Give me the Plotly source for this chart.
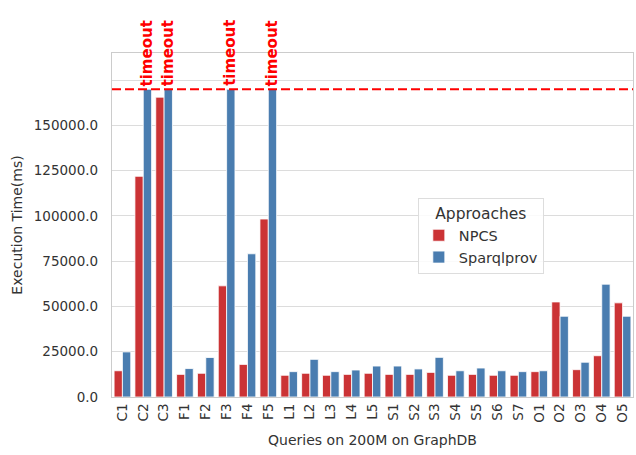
import plotly.graph_objects as go

# Query execution times (ms) on the 200M GraphDB dataset
queries = ["C1", "C2", "C3", "F1", "F2", "F3", "F4", "F5",
           "L1", "L2", "L3", "L4", "L5",
           "S1", "S2", "S3", "S4", "S5", "S6", "S7",
           "O1", "O2", "O3", "O4", "O5"]

TIMEOUT = 170000

npcs = [14500, 121900, 165600, 12500, 13100, 61400, 18000, 98300,
        12000, 13100, 12000, 12500, 13100,
        12500, 12500, 13600, 12000, 12500, 12000, 12000,
        14000, 52500, 15100, 22800, 52000]

sparqlprov = [24900, TIMEOUT, TIMEOUT, 15700, 21800, TIMEOUT, 79100, TIMEOUT,
              14000, 20800, 14000, 14900, 17100,
              17100, 15500, 21900, 14500, 16000, 14500, 14000,
              14500, 44600, 19200, 62300, 44600]

timed_out = [q for q, v in zip(queries, sparqlprov) if v >= TIMEOUT]

y_ticks = [0, 25000, 50000, 75000, 100000, 125000, 150000, 175000]
y_labels = [f"{v:.1f}" if v <= 150000 else "" for v in y_ticks]

RED = "#cb3335"
BLUE = "#4a7db0"
FONT = "DejaVu Sans"
TEXT = "#333333"

fig = go.Figure()
fig.add_trace(go.Bar(x=queries, y=npcs, name="NPCS",
                     marker=dict(color=RED, line=dict(color="white", width=0.8))))
fig.add_trace(go.Bar(x=queries, y=sparqlprov, name="Sparqlprov",
                     marker=dict(color=BLUE, line=dict(color="white", width=0.8))))

# timeout threshold
fig.add_hline(y=TIMEOUT, line=dict(color="#ff0000", width=2, dash="9px,4px"))

for q in timed_out:
    fig.add_annotation(x=q, y=TIMEOUT, xref="x", yref="y", text="<b>timeout</b>",
                       textangle=-90, showarrow=False, xanchor="center",
                       yanchor="bottom", xshift=4, yshift=1,
                       font=dict(family=FONT, size=15, color="#ff0000"))

fig.update_layout(
    width=636, height=455,
    margin=dict(l=112, r=3, t=53, b=58),
    paper_bgcolor="white", plot_bgcolor="white",
    barmode="group", bargap=0.2, bargroupgap=0,
    font=dict(family=FONT, size=14, color=TEXT),
    legend=dict(
        title=dict(text="Approaches", side="top center",
                   font=dict(family=FONT, size=15.5, color=TEXT)),
        x=0.587, y=0.578, xanchor="left", yanchor="top",
        bgcolor="rgba(255,255,255,0.85)", bordercolor="#dddddd", borderwidth=1,
        font=dict(family=FONT, size=14.5, color=TEXT),
        itemwidth=30,
    ),
)

fig.update_xaxes(
    title=dict(text="Queries on 200M on GraphDB", font=dict(size=14, color=TEXT), standoff=13),
    tickangle=-90, tickfont=dict(size=13.5, color=TEXT),
    showgrid=False, showline=True, mirror=True, linecolor="#cccccc", linewidth=1.25,
    ticks="", range=[-0.5, len(queries) - 0.5],
)
fig.update_yaxes(
    title=dict(text="Execution Time(ms)", font=dict(size=14, color=TEXT), standoff=7),
    range=[0, 190000], tickvals=y_ticks, ticktext=y_labels,
    tickfont=dict(size=13.5, color=TEXT),
    showgrid=True, gridcolor="#dcdcdc", gridwidth=1,
    showline=True, mirror=True, linecolor="#cccccc", linewidth=1.25,
    zeroline=False, ticks="", ticklabelstandoff=10,
)

fig.write_html("out.html")
